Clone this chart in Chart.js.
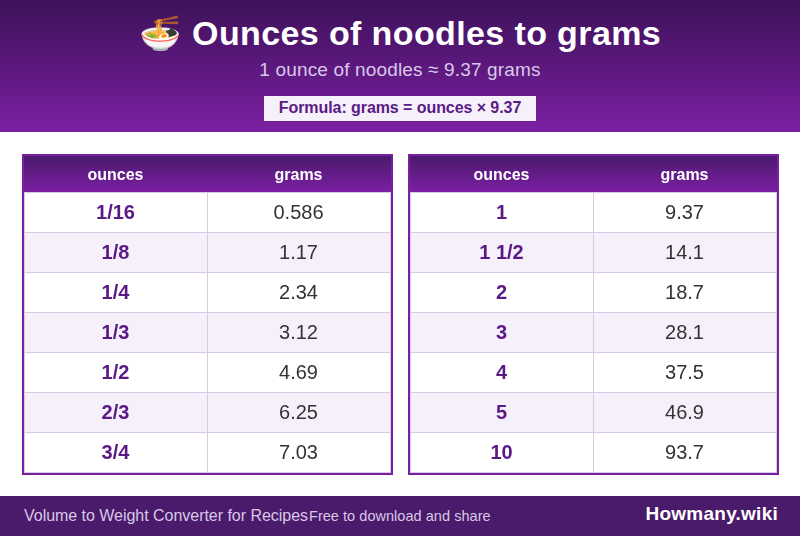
<!DOCTYPE html>
<html>
<head>
<meta charset="utf-8">
<script src="https://cdn.jsdelivr.net/npm/chart.js@4"></script>
<style>
  * { box-sizing: border-box; }
  html, body { margin: 0; padding: 0; width: 800px; height: 536px; overflow: hidden; background: #fff; font-family: "Liberation Sans", Arial, sans-serif; }
  .top { position: absolute; left: 0; top: 0; width: 800px; height: 132px; background: linear-gradient(180deg, #3d1259, #7b1fa2); text-align: center; }
  .top h1 { position: absolute; left: 0; top: 13px; width: 800px; margin: 0; color: #fff; font-size: 34px; line-height: 40px; font-weight: bold; letter-spacing: 0.38px; }
  .top h1 span { margin-right: 1px; }
  .top .sub { position: absolute; left: 0; top: 59px; width: 800px; color: #d9c8e8; font-size: 19px; line-height: 22px; letter-spacing: 0.15px; }
  .top .formula { position: absolute; left: 264px; top: 96px; width: 272px; height: 25px; background: #f5f0fa; color: #5a1a85; font-size: 16px; font-weight: bold; line-height: 24px; letter-spacing: -0.07px; }
  .table { position: absolute; top: 154px; width: 371px; height: 321px; border: 2px solid #7b1fa2; background: #d9c8e6; }
  .table .head { position: absolute; left: 0; top: 0; width: 367px; height: 36px; background: linear-gradient(180deg, #4a1a6b, #7b1fa2); }
  .table canvas { position: absolute; left: 0; top: 0; }
  #t1 { left: 22px; }
  #t2 { left: 408px; }
  .bottom { position: absolute; left: 0; top: 496px; width: 800px; height: 40px; background: #4a1a6b; color: #d9c8e8; }
  .bottom span { position: absolute; white-space: nowrap; }
  .bottom .a { left: 24px; top: 10px; font-size: 16px; line-height: 20px; letter-spacing: -0.03px; }
  .bottom .b { left: 309px; top: 10px; font-size: 14.5px; line-height: 20px; letter-spacing: 0.04px; }
  .bottom .c { right: 22px; top: 6px; color: #fff; font-size: 19px; line-height: 24px; font-weight: bold; letter-spacing: 0.25px; }
</style>
</head>
<body>
<div class="top">
  <h1><span>🍜</span> Ounces of noodles to grams</h1>
  <div class="sub">1 ounce of noodles ≈ 9.37 grams</div>
  <div class="formula">Formula: grams = ounces × 9.37</div>
</div>
<div class="table" id="t1"><div class="head"></div><canvas id="c1" width="366" height="317"></canvas></div>
<div class="table" id="t2"><div class="head"></div><canvas id="c2" width="366" height="317"></canvas></div>
<div class="bottom">
  <span class="a">Volume to Weight Converter for Recipes</span>
  <span class="b">Free to download and share</span>
  <span class="c">Howmany.wiki</span>
</div>
<script>
const columns = ['ounces', 'grams'];
const ouncesLeft = ['1/16', '1/8', '1/4', '1/3', '1/2', '2/3', '3/4'];
const gramsLeft = ['0.586', '1.17', '2.34', '3.12', '4.69', '6.25', '7.03'];
const ouncesRight = ['1', '1 1/2', '2', '3', '4', '5', '10'];
const gramsRight = ['9.37', '14.1', '18.7', '28.1', '37.5', '46.9', '93.7'];

// writes both columns of each row in the middle of its cell
const cellText = {
  id: 'cellText',
  afterDatasetsDraw(chart, args, opts) {
    const { ctx, scales: { x, y } } = chart;
    ctx.save();
    ctx.textAlign = 'center';
    ctx.textBaseline = 'middle';
    opts.ounces.forEach((label, i) => {
      const py = y.getPixelForValue(i);
      ctx.font = 'bold 20px "Liberation Sans"';
      ctx.fillStyle = '#5a1a85';
      ctx.fillText(label, x.getPixelForValue(0.5), py);
      ctx.font = '20px "Liberation Sans"';
      ctx.fillStyle = '#333333';
      ctx.fillText(opts.grams[i], x.getPixelForValue(1.5), py);
    });
    ctx.restore();
  }
};

function drawTable(id, ounces, grams) {
  const rowFill = c => c.dataIndex % 2 ? '#f5f0fa' : '#ffffff';
  const column = name => ({
    label: name,
    data: ounces.map(() => 1),
    backgroundColor: rowFill,
    borderColor: '#d9c8e6',
    borderSkipped: false,
    inflateAmount: 0,
    borderWidth: { top: 0, right: 0, bottom: 1, left: 1 },
    barPercentage: 1,
    categoryPercentage: 1
  });
  new Chart(document.getElementById(id), {
    type: 'bar',
    data: {
      labels: ounces,
      datasets: columns.map(column)
    },
    options: {
      indexAxis: 'y',
      responsive: false,
      animation: false,
      events: [],
      layout: { padding: 0 },
      scales: {
        x: {
          stacked: true,
          position: 'top',
          min: 0,
          max: columns.length,
          grid: { display: false },
          border: { display: false },
          afterFit: s => { s.height = 37; },
          afterBuildTicks: s => { s.ticks = columns.map((c, i) => ({ value: i + 0.5 })); },
          ticks: {
            autoSkip: false,
            maxRotation: 0,
            color: '#ffffff',
            font: { family: '"Liberation Sans"', size: 16, weight: 'bold' },
            padding: 0,
            callback: v => columns[Math.floor(v)]
          }
        },
        y: { stacked: true, display: false }
      },
      plugins: {
        legend: { display: false },
        tooltip: { enabled: false },
        cellText: { ounces, grams }
      }
    },
    plugins: [cellText]
  });
}

drawTable('c1', ouncesLeft, gramsLeft);
drawTable('c2', ouncesRight, gramsRight);
</script>
</body>
</html>
